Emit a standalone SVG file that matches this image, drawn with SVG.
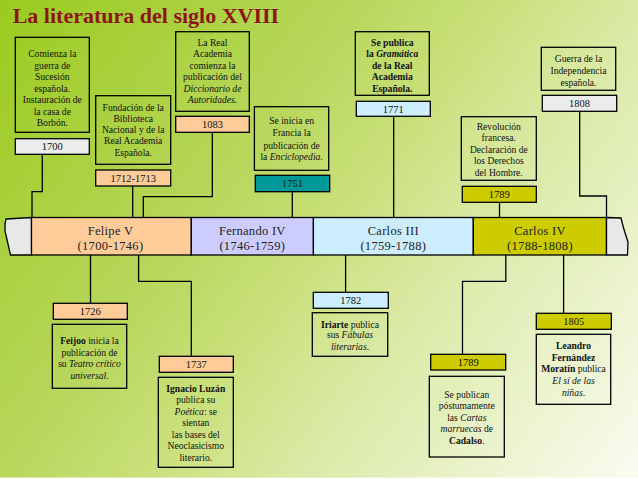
<svg xmlns="http://www.w3.org/2000/svg" width="638" height="479" viewBox="0 0 638 479">
<defs>
<linearGradient id="bg" gradientUnits="userSpaceOnUse" x1="0" y1="0" x2="638" y2="479">
<stop offset="0" stop-color="#9acb1e"/>
<stop offset="0.36" stop-color="#b8d75c"/>
<stop offset="0.5" stop-color="#c9e07a"/>
<stop offset="0.64" stop-color="#d9e9a2"/>
<stop offset="0.85" stop-color="#ecf4d0"/>
<stop offset="1" stop-color="#fafcf2"/>
</linearGradient>
<style>
.box{fill:none;stroke:#000;stroke-width:1.3}
.yb{stroke:#000;stroke-width:1.3}
.seg{stroke:#000;stroke-width:1.3}
.con{fill:none;stroke:#000;stroke-width:1.3}
text{font-family:"Liberation Serif","Times New Roman",serif;text-anchor:middle;fill:#111}
.t{font-size:9.6px}
.y{font-size:10.5px}
.bl{font-size:12.5px;fill:#222;letter-spacing:0.3px}
.b{font-weight:bold}
.i{font-style:italic}
.title{font-size:22px;font-weight:bold;fill:#8b1515;text-anchor:start}
</style>
</defs>
<rect width="638" height="479" fill="url(#bg)"/>
<rect x="0" y="477.6" width="638" height="1.4" fill="#ffffff"/>
<text class="title" x="12.7" y="22.5">La literatura del siglo XVIII</text>

<g id="connectors">
<path class="con" d="M42.3,154.3 V191.7 H32 V217.5"/>
<path class="con" d="M132.7,186 V217.5"/>
<path class="con" d="M212.3,132.3 V196.7 H143.3 V217.5"/>
<path class="con" d="M292.3,191.7 V217.5"/>
<path class="con" d="M393.7,116.3 V217.5"/>
<path class="con" d="M499.5,202.3 V217.5"/>
<path class="con" d="M579.7,111.3 V196 H606.5 V217.5"/>
<path class="con" d="M90.5,255 V303.3"/>
<path class="con" d="M138.6,255 V281.3 H191.3 V356.3"/>
<path class="con" d="M345.6,255 V292.3"/>
<path class="con" d="M505.8,255 V281.3 H462.5 V354.3"/>
<path class="con" d="M563.6,255 V313.3"/>
</g>

<g id="timeline">
<path class="seg" fill="#e8e8e8" d="M6,219 L31.5,217.5 L31.5,255 L10.5,255 L5,231 C4.6,226 5,222 6,219 Z"/>
<rect class="seg" x="31.5" y="217.5" width="159.8" height="37.5" fill="#ffcc99"/>
<rect class="seg" x="191.3" y="217.5" width="122.1" height="37.5" fill="#ccccff"/>
<rect class="seg" x="313.4" y="217.5" width="159.9" height="37.5" fill="#cceeff"/>
<rect class="seg" x="473.3" y="217.5" width="133.2" height="37.5" fill="#cccc00"/>
<path class="seg" fill="#e8e8e8" d="M606.5,217.5 L621,218 C623,227 626,236 628,242 L627.5,255 L606.5,255 Z"/>
<text class="bl" x="110.5" y="234.5">Felipe V</text>
<text class="bl" x="110.5" y="249.5">(1700-1746)</text>
<text class="bl" x="252.3" y="234.5">Fernando IV</text>
<text class="bl" x="252.3" y="249.5">(1746-1759)</text>
<text class="bl" x="393.3" y="234.5">Carlos III</text>
<text class="bl" x="393.3" y="249.5">(1759-1788)</text>
<text class="bl" x="540" y="234.5">Carlos IV</text>
<text class="bl" x="540" y="249.5">(1788-1808)</text>
</g>

<g id="n1700">
<rect class="box" x="15.3" y="37.3" width="74" height="95"/>
<text class="t" x="52.3" y="57">Comienza la</text>
<text class="t" x="52.3" y="68.5">guerra de</text>
<text class="t" x="52.3" y="80">Sucesión</text>
<text class="t" x="52.3" y="91.5">española.</text>
<text class="t" x="52.3" y="103">Instauración de</text>
<text class="t" x="52.3" y="114.5">la casa de</text>
<text class="t" x="52.3" y="126">Borbón.</text>
<rect class="yb" x="15.3" y="138.7" width="74" height="15.6" fill="#ececec"/>
<text class="y" x="52.3" y="150.3">1700</text>
</g>

<g id="n1712">
<rect class="box" x="95.7" y="95.7" width="75" height="68.6"/>
<text class="t" x="133.2" y="110.5">Fundación de la</text>
<text class="t" x="133.2" y="121.8">Biblioteca</text>
<text class="t" x="133.2" y="133">Nacional y de la</text>
<text class="t" x="133.2" y="144.4">Real Academia</text>
<text class="t" x="133.2" y="155.8">Española.</text>
<rect class="yb" x="95.7" y="170" width="75" height="16" fill="#ffcc99"/>
<text class="y" x="133.2" y="181.8">1712-1713</text>
</g>

<g id="n1083">
<rect class="box" x="175.7" y="31.7" width="73.6" height="79.6"/>
<text class="t" x="212.5" y="46">La Real</text>
<text class="t" x="212.5" y="57.3">Academia</text>
<text class="t" x="212.5" y="68.8">comienza la</text>
<text class="t" x="212.5" y="80.3">publicación del</text>
<text class="t i" x="212.5" y="91.8">Diccionario de</text>
<text class="t i" x="212.5" y="103.4">Autoridades.</text>
<rect class="yb" x="175.7" y="116.3" width="73.6" height="16" fill="#ffcc99"/>
<text class="y" x="212.5" y="128.1">1083</text>
</g>

<g id="n1751">
<rect class="box" x="254.4" y="106.7" width="74.3" height="63.6"/>
<text class="t" x="291.6" y="124.2">Se inicia en</text>
<text class="t" x="291.6" y="136.2">Francia la</text>
<text class="t" x="291.6" y="148.5">publicación de</text>
<text class="t" x="291.6" y="160.2">la <tspan class="i">Enciclopedia</tspan>.</text>
<rect class="yb" x="255.3" y="175.3" width="74.4" height="16.4" fill="#009999"/>
<text class="y" x="292.5" y="187.3" fill="#0a2a2a">1751</text>
</g>

<g id="n1771">
<rect class="box" x="355.3" y="31.7" width="74" height="63.6"/>
<text class="t b" x="392.3" y="46">Se publica</text>
<text class="t b" x="392.3" y="57.3">la <tspan class="i">Gramática</tspan></text>
<text class="t b" x="392.3" y="68.8">de la Real</text>
<text class="t b" x="392.3" y="80.3">Academia</text>
<text class="t b" x="392.3" y="92.3">Española.</text>
<rect class="yb" x="356.3" y="101.3" width="74" height="15" fill="#cceeff"/>
<text class="y" x="393.3" y="112.6">1771</text>
</g>

<g id="n1789a">
<rect class="box" x="461.3" y="116.7" width="75" height="63.6"/>
<text class="t" x="498.8" y="129.6">Revolución</text>
<text class="t" x="498.8" y="141.2">francesa.</text>
<text class="t" x="498.8" y="152.6">Declaración de</text>
<text class="t" x="498.8" y="164.2">los Derechos</text>
<text class="t" x="498.8" y="175.8">del Hombre.</text>
<rect class="yb" x="462.3" y="186.3" width="74" height="16" fill="#cccc00"/>
<text class="y" x="499.3" y="198.1">1789</text>
</g>

<g id="n1808">
<rect class="box" x="541.3" y="47.3" width="74.4" height="43"/>
<text class="t" x="578.5" y="62.2">Guerra de la</text>
<text class="t" x="578.5" y="73.6">Independencia</text>
<text class="t" x="578.5" y="85.8">española.</text>
<rect class="yb" x="542.3" y="95.3" width="74.4" height="16" fill="#ececec"/>
<text class="y" x="579.5" y="107.1">1808</text>
</g>

<g id="n1726">
<rect class="yb" x="53.3" y="303.3" width="74" height="16" fill="#ffcc99"/>
<text class="y" x="90.3" y="315.1">1726</text>
<rect class="box" x="52.3" y="324.3" width="74.4" height="64"/>
<text class="t" x="89.5" y="344.2"><tspan class="b">Feijoo</tspan> inicia la</text>
<text class="t" x="89.5" y="355.6">publicación de</text>
<text class="t" x="89.5" y="367">su <tspan class="i">Teatro crítico</tspan></text>
<text class="t" x="89.5" y="378.6"><tspan class="i">universal</tspan>.</text>
</g>

<g id="n1737">
<rect class="yb" x="159.3" y="356.3" width="74" height="16" fill="#ffcc99"/>
<text class="y" x="196.3" y="368.1">1737</text>
<rect class="box" x="158.3" y="377.3" width="75" height="90"/>
<text class="t" x="195.8" y="391.6"><tspan class="b">Ignacio Luzán</tspan></text>
<text class="t" x="195.8" y="403">publica su</text>
<text class="t" x="195.8" y="414.6"><tspan class="i">Poética</tspan>: se</text>
<text class="t" x="195.8" y="426.2">sientan</text>
<text class="t" x="195.8" y="437.6">las bases del</text>
<text class="t" x="195.8" y="449.2">Neoclasicismo</text>
<text class="t" x="195.8" y="460.8">literario.</text>
</g>

<g id="n1782">
<rect class="yb" x="313.3" y="292.3" width="75" height="16" fill="#cceeff"/>
<text class="y" x="350.8" y="304.1">1782</text>
<rect class="box" x="312.3" y="312.7" width="75.4" height="43.6"/>
<text class="t" x="350" y="327.6"><tspan class="b">Iriarte</tspan> publica</text>
<text class="t" x="350" y="338.4">sus <tspan class="i">Fábulas</tspan></text>
<text class="t" x="350" y="349.6"><tspan class="i">literarias</tspan>.</text>
</g>

<g id="n1789b">
<rect class="yb" x="430.7" y="354.3" width="75" height="15.7" fill="#cccc00"/>
<text class="y" x="468.2" y="365.9">1789</text>
<rect class="box" x="429.3" y="376.3" width="75" height="80.7"/>
<text class="t" x="466.8" y="397.6">Se publican</text>
<text class="t" x="466.8" y="409.2">póstumamente</text>
<text class="t" x="466.8" y="420.8">las <tspan class="i">Cartas</tspan></text>
<text class="t" x="466.8" y="432.4"><tspan class="i">marruecas</tspan> de</text>
<text class="t" x="466.8" y="444"><tspan class="b">Cadalso</tspan>.</text>
</g>

<g id="n1805">
<rect class="yb" x="536.3" y="313.3" width="75" height="16" fill="#cccc00"/>
<text class="y" x="573.8" y="325.1">1805</text>
<rect class="box" x="536.3" y="334.3" width="74.4" height="70"/>
<text class="t b" x="573.5" y="348.6">Leandro</text>
<text class="t b" x="573.5" y="360.6">Fernández</text>
<text class="t" x="573.5" y="372.2"><tspan class="b">Moratín</tspan> publica</text>
<text class="t i" x="573.5" y="384">El sí de las</text>
<text class="t" x="573.5" y="395.8"><tspan class="i">niñas</tspan>.</text>
</g>
</svg>
